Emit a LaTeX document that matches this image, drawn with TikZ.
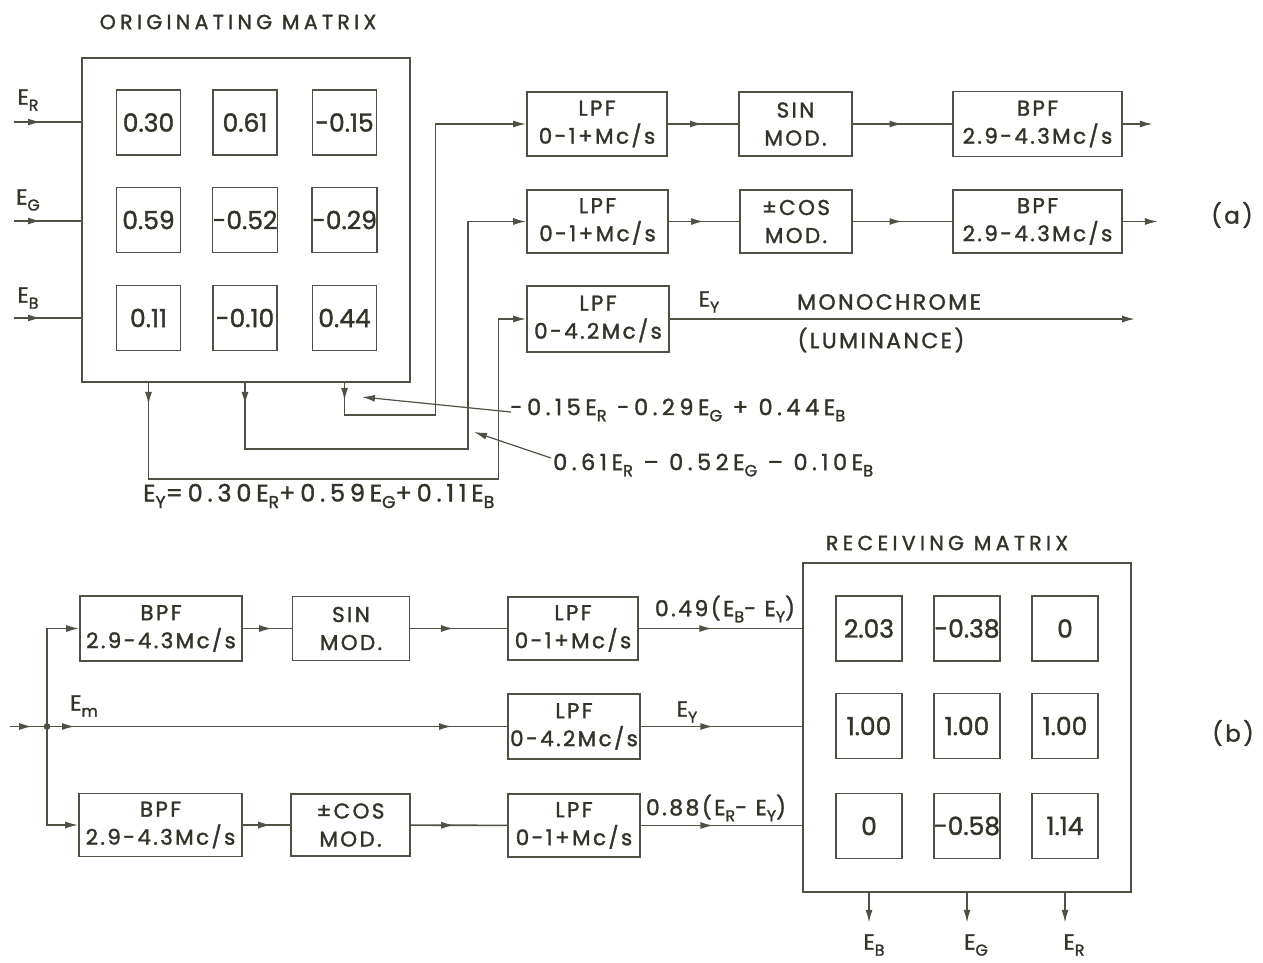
\documentclass[tikz,border=0pt]{standalone}
\usepackage{graphicx}
\usepackage{fontspec}
\setmainfont{Poppins}[FakeBold=1.4]
\newfontfamily\lf{Poppins}[LetterSpace=11,FakeBold=1.4]
\newfontfamily\lfw{Poppins}[LetterSpace=20,FakeBold=1.4]
\newfontfamily\lft{Poppins}[LetterSpace=21,FakeBold=1.4]
\usetikzlibrary{arrows.meta,decorations.markings,calc}
\definecolor{ink}{HTML}{33332A}
\definecolor{lnc}{HTML}{505045}
\newcommand\sbs[1]{\raisebox{-0.5ex}{\scalebox{0.72}{#1}}}
\newcommand\bxfnt{\lf\fontsize{21.5}{28}\selectfont}
\newcommand\cellfnt{\fontsize{25}{28}\selectfont}
\newcommand\labfnt{\lf\fontsize{22}{26}\selectfont}
\newcommand\frmfnt{\lfw\fontsize{22.5}{26}\selectfont}
\newcommand\titfnt{\lft\fontsize{20.5}{24}\selectfont}
\begin{document}
\begin{tikzpicture}[x=1pt,y=-1pt,
  >={Latex[length=13pt,width=7pt]},
  ln/.style={draw=lnc,line width=1.6pt},
  bx/.style={draw=lnc,line width=1.6pt,inner sep=0pt,align=center,text=ink,font=\bxfnt},
  cell/.style={draw=lnc,line width=1.6pt,minimum width=64pt,minimum height=65pt,inner sep=0pt,text=ink,font=\cellfnt},
  mbox/.style={draw=lnc,line width=1.6pt,inner sep=0pt,minimum width=328pt},
  lab/.style={text=ink,inner sep=1pt,font=\labfnt},
  frm/.style={text=ink,inner sep=1pt,font=\frmfnt},
  tit/.style={text=ink,inner sep=1pt,font=\titfnt},
  marr/.style={postaction={decorate},decoration={markings,mark=at position #1 with {\arrow{>}}}},
]
\useasboundingbox[fill=white] (0,0) rectangle (1263,962);

% ---------- (a) originating matrix ----------
\node[tit] (t1) at (238,22) {ORIGINATING MATRIX};
\node[mbox,minimum height=324pt] (OM) at (246,220) {};
\node[cell] (m11) at (148.5,122.5) {0.30};
\node[cell] (m12) at (245,122.5) {0.61};
\node[cell] (m13) at (344.5,122.5) {-0.15};
\node[cell] (m21) at (148.5,220) {0.59};
\node[cell] (m22) at (245,220) {-0.52};
\node[cell] (m23) at (344.5,220) {-0.29};
\node[cell] (m31) at (148.5,318) {0.11};
\node[cell] (m32) at (245,318) {-0.10};
\node[cell] (m33) at (344.5,318) {0.44};

\node[lab] (lER) at (28,100) {E\sbs{R}};
\node[lab] (lEG) at (28,200) {E\sbs{G}};
\node[lab] (lEB) at (28,298) {E\sbs{B}};
\coordinate (iR) at (14,122);
\coordinate (iG) at (14,221);
\coordinate (iB) at (14,318);
\draw[ln,marr=27pt] (iR) -- (iR -| OM.west);
\draw[ln,marr=27pt] (iG) -- (iG -| OM.west);
\draw[ln,marr=27pt] (iB) -- (iB -| OM.west);

\node[bx,minimum width=140pt,minimum height=64pt] (LPF1) at (597,124) {LPF\\0-1+Mc/s};
\node[bx,minimum width=113pt,minimum height=64pt] (SIN1) at (795.5,124) {SIN\\MOD.};
\node[bx,minimum width=169pt,minimum height=65pt] (BPF1) at (1037.5,124) {BPF\\2.9-4.3Mc/s};
\node[bx,minimum width=141pt,minimum height=63pt] (LPF2) at (597.5,221.5) {LPF\\0-1+Mc/s};
\node[bx,minimum width=112pt,minimum height=63pt] (COS1) at (796,221.5) {±COS\\MOD.};
\node[bx,minimum width=169pt,minimum height=63pt] (BPF2) at (1037.5,221.5) {BPF\\2.9-4.3Mc/s};
\node[bx,minimum width=142pt,minimum height=66pt] (LPF3) at (598,319) {LPF\\0-4.2Mc/s};

\draw[ln,marr=0.5] (LPF1) -- (SIN1);
\draw[ln,marr=0.5] (SIN1) -- (BPF1);
\draw[ln,->] (BPF1.east) -- ++(30,0);
\draw[ln,marr=0.5] (LPF2) -- (COS1);
\draw[ln,marr=0.5] (COS1) -- (BPF2);
\draw[ln,->] (BPF2.east) -- ++(35,0);
\coordinate (mono) at (1135,319);
\draw[ln,->] (LPF3.east) -- (mono);
\node[lab] (ey1) at (709,302) {E\sbs{Y}};
\node[lab] (mon) at (889,302) {MONOCHROME};
\node[lab] (lum) at (881,340) {(LUMINANCE)};
\node[lab,font=\lf\fontsize{23}{26}\selectfont] (pa) at (1232,215) {(a)};

% feedback paths
\draw[ln,marr=18pt,->] (m33 |- OM.south) -- ++(0,32) -- ++(91,0) |- (LPF1.west);
\draw[ln,marr=22pt,->] (m32 |- OM.south) -- ++(0,66) -- ++(223,0) |- (LPF2.west);
\draw[ln,marr=22pt,->] (m31 |- OM.south) -- ++(0,96) -- ++(350,0) |- (LPF3.west);

\node[frm,anchor=west] (f1) at (509,410) {-0.15E\sbs{R} -0.29E\sbs{G} + 0.44E\sbs{B}};
\node[frm,anchor=west] (f2) at (552,465) {0.61E\sbs{R} – 0.52E\sbs{G} – 0.10E\sbs{B}};
\node[frm,anchor=west,font=\lfw\fontsize{24}{26}\selectfont] (f3) at (142,496) {E\sbs{Y}=0.30E\sbs{R}+0.59E\sbs{G}+0.11E\sbs{B}};
\coordinate (a1) at (362,397);
\coordinate (a2) at (474,432);
\draw[ln,line width=1.2pt,->] ($(f1.west)+(2,2)$) -- (a1);
\draw[ln,line width=1.2pt,->] ($(f2.west)+(-1,-7)$) -- (a2);

% ---------- (b) ----------
\node[bx,minimum width=162pt,minimum height=65pt] (BPFb1) at (161,628.5) {BPF\\2.9-4.3Mc/s};
\node[bx,minimum width=117pt,minimum height=64pt] (SINb) at (351,628.5) {SIN\\MOD.};
\node[bx,minimum width=130pt,minimum height=63pt] (LPFb1) at (573,628.5) {LPF\\0-1+Mc/s};
\node[bx,minimum width=132pt,minimum height=65pt] (LPFb2) at (574,726.5) {LPF\\0-4.2Mc/s};
\node[bx,minimum width=163pt,minimum height=63pt] (BPFb2) at (160.5,825) {BPF\\2.9-4.3Mc/s};
\node[bx,minimum width=119pt,minimum height=62pt] (COSb) at (350.5,825) {±COS\\MOD.};
\node[bx,minimum width=132pt,minimum height=63pt] (LPFb3) at (574,825.5) {LPF\\0-1+Mc/s};

\node[tit] (t2) at (947,543) {RECEIVING MATRIX};
\node[mbox,minimum height=329pt] (RM) at (967,727.5) {};
\node[cell,minimum width=66pt] (r11) at (869,628.5) {2.03};
\node[cell,minimum width=66pt] (r12) at (967,628.5) {-0.38};
\node[cell,minimum width=66pt] (r13) at (1065,628.5) {0};
\node[cell,minimum width=66pt] (r21) at (869,726) {1.00};
\node[cell,minimum width=66pt] (r22) at (967,726) {1.00};
\node[cell,minimum width=66pt] (r23) at (1065,726) {1.00};
\node[cell,minimum width=66pt] (r31) at (869,826) {0};
\node[cell,minimum width=66pt] (r32) at (967,826) {-0.58};
\node[cell,minimum width=66pt] (r33) at (1065,826) {1.14};

\coordinate (iM) at (10,726.5);
\coordinate (J) at (47,726.5);
\fill[lnc] (J) circle (3.4pt);
\draw[ln,marr=0.6] (iM) -- (J);
\draw[ln,postaction={decorate},decoration={markings,mark=at position 28pt with {\arrow{>}},mark=at position 405pt with {\arrow{>}}}] (J) -- (LPFb2.west);
\draw[ln,->] (J) |- (BPFb1.west);
\draw[ln,->] (J) |- (BPFb2.west);
\node[lab] (lEm) at (84,706) {E\sbs{m}};

\draw[ln,marr=0.6] (BPFb1) -- (SINb);
\draw[ln,marr=0.45] (SINb) -- (LPFb1);
\draw[ln,marr=0.6] (BPFb2) -- (COSb);
\draw[ln,marr=0.45] (COSb) -- (LPFb3);
\draw[ln,marr=0.45] (LPFb1.east) -- (LPFb1.east -| RM.west);
\draw[ln,marr=0.45] (LPFb2.east) -- (LPFb2.east -| RM.west);
\draw[ln,marr=0.45] (LPFb3.east) -- (LPFb3.east -| RM.west);

\node[lab] (b1) at (725,609) {0.49(E\sbs{B}- E\sbs{Y})};
\node[lab] (b2) at (687,712) {E\sbs{Y}};
\node[lab] (b3) at (716,808) {0.88(E\sbs{R}- E\sbs{Y})};
\node[lab,font=\lf\fontsize{23}{26}\selectfont] (pb) at (1233,733) {(b)};

\draw[ln,->] (r31 |- RM.south) -- ++(0,30);
\draw[ln,->] (r32 |- RM.south) -- ++(0,30);
\draw[ln,->] (r33 |- RM.south) -- ++(0,30);
\node[lab] (oB) at (874,945) {E\sbs{B}};
\node[lab] (oG) at (976,945) {E\sbs{G}};
\node[lab] (oR) at (1074,945) {E\sbs{R}};
\end{tikzpicture}
\end{document}
